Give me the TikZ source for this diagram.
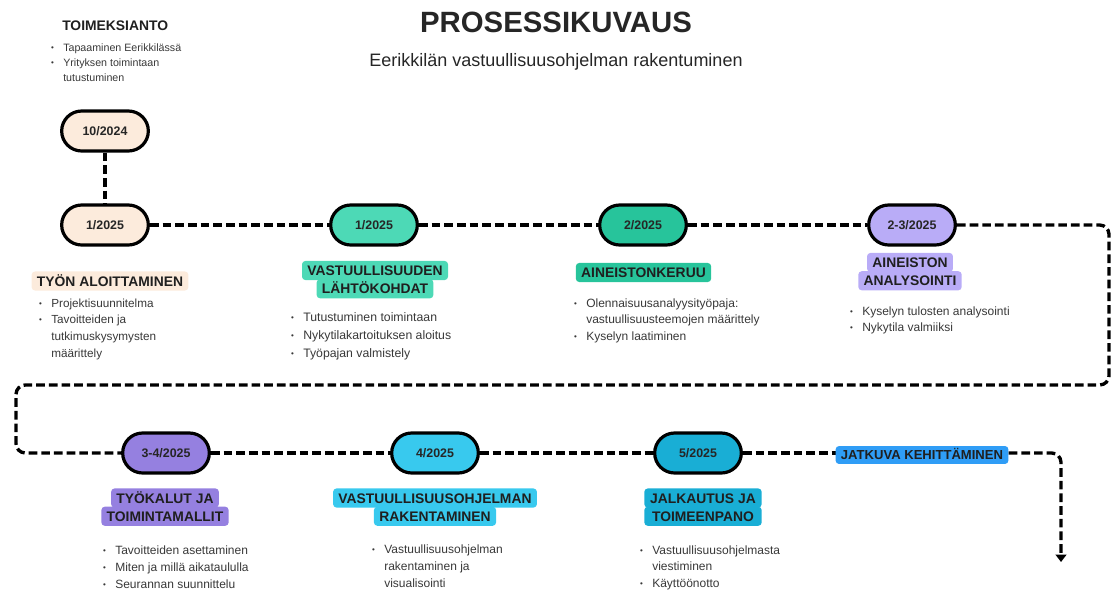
\documentclass[tikz,border=0pt]{standalone}
\usepackage{fontspec}
\setmainfont{Liberation Sans}
\usetikzlibrary{arrows.meta, positioning}

\definecolor{beige}{HTML}{FCEBDC}
\definecolor{mint}{HTML}{4DD9B6}
\definecolor{jade}{HTML}{27C49B}
\definecolor{lilac}{HTML}{B9ACF7}
\definecolor{violet}{HTML}{9580E0}
\definecolor{sky}{HTML}{38C9EE}
\definecolor{ocean}{HTML}{19AED5}
\definecolor{azure}{HTML}{2F9DF6}

\newcommand{\itm}{\llap{\raisebox{0.6pt}{\fontsize{6}{6}\selectfont\textbullet}\hspace{7pt}}}
\newcommand{\blist}[3]{{\fontsize{#1}{#2}\selectfont\begin{tabular}[t]{@{}l@{}}#3\end{tabular}}}

\tikzset{
	pill/.style={draw=black, line width=2.4pt, rounded corners=15pt, minimum width=65pt, minimum height=30pt, font=\fontsize{9.3}{11}\selectfont\bfseries, text=black!85},
	tag/.style={rounded corners=2.5pt, inner xsep=4pt, inner ysep=3.4pt, text height=7.5pt, text depth=0pt, font=\fontsize{10.4}{12}\selectfont\bfseries, text=black!88},
	flow/.style={line width=2.5pt, dash pattern=on 6.5pt off 3pt, rounded corners=7pt},
	items/.style={anchor=base west, inner sep=0pt, text=black!78},
}

\begin{document}
\begin{tikzpicture}[x=0.75pt, y=-0.75pt]
	\useasboundingbox (0,0) rectangle (1112,592);
	
	\node (title) at (556,22) {\fontsize{22}{26}\selectfont\bfseries\color{black!85}PROSESSIKUVAUS};
	\node (sub) at (556,62) {\fontsize{13.5}{16}\selectfont\color{black!85}Eerikkilän vastuullisuusohjelman rakentuminen};
	
	% toimeksianto
	\node (h0) [anchor=west, inner sep=0pt, font=\fontsize{10.4}{12}\selectfont\bfseries, text=black!88] at (62,26) {TOIMEKSIANTO};
	\node (l0) [items] at (63,51) {\blist{8}{11.25pt}{\itm Tapaaminen Eerikkilässä\\ \itm Yrityksen toimintaan\\ tutustuminen}};
	
	% dates
	\node (d0) [pill, fill=beige] at (105,131) {10/2024};
	\node (d1) [pill, fill=beige] at (105,225) {1/2025};
	\node (d2) [pill, fill=mint] at (374,225) {1/2025};
	\node (d3) [pill, fill=jade] at (643,225) {2/2025};
	\node (d4) [pill, fill=lilac] at (912,225) {2-3/2025};
	\node (d5) [pill, fill=violet] at (166,453) {3-4/2025};
	\node (d6) [pill, fill=sky] at (435,453) {4/2025};
	\node (d7) [pill, fill=ocean] at (698,453) {5/2025};
	
	% phases
	\node (h1) [tag, fill=beige] at (110,281) {TYÖN ALOITTAMINEN};
	\node (h2) [tag, fill=mint] at (375,270.5) {VASTUULLISUUDEN};
	\node (h2b) [tag, fill=mint, below=-1pt of h2] {LÄHTÖKOHDAT};
	\node (h3) [tag, fill=jade] at (643.5,272.5) {AINEISTONKERUU};
	\node (h4) [tag, fill=lilac] at (910,262.5) {AINEISTON};
	\node (h4b) [tag, fill=lilac, below=-1pt of h4] {ANALYSOINTI};
	\node (h5) [tag, fill=violet] at (165,498) {TYÖKALUT JA};
	\node (h5b) [tag, fill=violet, below=-1pt of h5] {TOIMINTAMALLIT};
	\node (h6) [tag, fill=sky] at (435,498) {VASTUULLISUUSOHJELMAN};
	\node (h6b) [tag, fill=sky, below=-1pt of h6] {RAKENTAMINEN};
	\node (h7) [tag, fill=ocean, minimum width=88pt] at (703,498) {JALKAUTUS JA};
	\node (h7b) [tag, fill=ocean, minimum width=88pt, below=-1pt of h7] {TOIMEENPANO};
	
	% tasks
	\node (l1) [items] at (51,307) {\blist{8.8}{12.5pt}{\itm Projektisuunnitelma\\ \itm Tavoitteiden ja\\ tutkimuskysymysten\\ määrittely}};
	\node (l2) [items] at (303,321) {\blist{9.2}{13.5pt}{\itm Tutustuminen toimintaan\\ \itm Nykytilakartoituksen aloitus\\ \itm Työpajan valmistely}};
	\node (l3) [items] at (586,307) {\blist{9}{12.4pt}{\itm Olennaisuusanalyysityöpaja:\\ vastuullisuusteemojen määrittely\\ \itm Kyselyn laatiminen}};
	\node (l4) [items] at (862,315) {\blist{9}{12pt}{\itm Kyselyn tulosten analysointi\\ \itm Nykytila valmiiksi}};
	\node (l5) [items] at (115,554) {\blist{9}{12.75pt}{\itm Tavoitteiden asettaminen\\ \itm Miten ja millä aikataululla\\ \itm Seurannan suunnittelu}};
	\node (l6) [items] at (384,553) {\blist{9}{12.75pt}{\itm Vastuullisuusohjelman\\ rakentaminen ja\\ visualisointi}};
	\node (l7) [items] at (652,554) {\blist{9}{12.5pt}{\itm Vastuullisuusohjelmasta\\ viestiminen\\ \itm Käyttöönotto}};
	
	% timeline
	\coordinate (tr) at (1109,385);
	\coordinate (tl) at (16,385);
	\coordinate (end) at (1061,562);
	
	\draw [flow] (d0) -- (d1);
	\draw [flow] (d1) -- (d2);
	\draw [flow] (d2) -- (d3);
	\draw [flow] (d3) -- (d4);
	\draw [flow] (d4) -| (tr) -- (tl) |- (d5);
	\draw [flow] (d5) -- (d6);
	\draw [flow] (d6) -- (d7);
	\draw [flow] (d7) -- (922,453);
	\node (cont) [tag, fill=azure, font=\fontsize{9.8}{12}\selectfont\bfseries, text height=7pt, inner ysep=3.2pt] at (922,455) {JATKUVA KEHITTÄMINEN};
	\draw [flow, -{Triangle[width=8pt,length=5.5pt]}] (cont.east |- d7) -| (end);
	
\end{tikzpicture}
\end{document}
